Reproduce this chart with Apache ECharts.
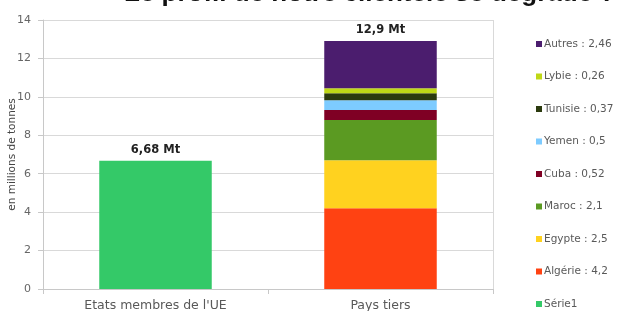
<!DOCTYPE html>
<html>
<head>
<meta charset="utf-8">
<script src="https://cdn.jsdelivr.net/npm/echarts@6/dist/echarts.min.js"></script>
<style>
  html, body { margin: 0; padding: 0; background: #fff; }
  #chart { width: 619px; height: 311px; }
</style>
</head>
<body>
<div id="chart"></div>
<script>
var categories = ["Etats membres de l'UE", 'Pays tiers'];
// series de bas en haut dans la pile
var seriesNames = ['Série1', 'Algérie', 'Egypte', 'Maroc', 'Cuba', 'Yemen', 'Tunisie', 'Lybie', 'Autres'];
var seriesValues = [
    [6.68, 0],
    [0, 4.2],
    [0, 2.5],
    [0, 2.1],
    [0, 0.52],
    [0, 0.5],
    [0, 0.37],
    [0, 0.26],
    [0, 2.46]
];
var seriesColors = ['#34C968', '#FF4212', '#FFD21F', '#5B9A22', '#7F0024', '#7DCBFF', '#2B3A0E', '#BFD816', '#4B1D6E'];
var totalLabels = ['6,68 Mt', '12,9 Mt'];
var yTicks = [0, 2, 4, 6, 8, 10, 12, 14];

function legendName(i) {
    if (i === 0) return seriesNames[0];
    return seriesNames[i] + ' : ' + String(seriesValues[i][1]).replace('.', ',');
}

var myChart = echarts.init(document.getElementById('chart'));

var series = seriesNames.map(function (n, i) {
    return {
        name: legendName(i),
        type: 'bar',
        stack: 'total',
        barWidth: '50%',
        itemStyle: { color: seriesColors[i] },
        data: seriesValues[i].map(function (v, j) {
            var d = { value: v };
            // etiquette du total au-dessus de la barre
            if ((i === 0 && j === 0) || (i === seriesNames.length - 1 && j === 1)) {
                d.label = {
                    show: true,
                    position: 'top',
                    distance: 5,
                    formatter: totalLabels[j],
                    fontFamily: 'DejaVu Sans',
                    fontWeight: 'bold',
                    fontSize: 11.5,
                    color: '#222'
                };
            }
            return d;
        })
    };
});

var option = {
    animation: false,
    title: {
        text: 'Le profil de notre clientèle se dégrade ?',
        left: 124,
        top: -19,
        padding: 0,
        textStyle: {
            fontFamily: 'Liberation Sans',
            fontWeight: 'bold',
            fontSize: 26,
            color: '#111'
        }
    },
    grid: { left: 43, right: 126, top: 20, bottom: 22, outerBoundsMode: 'none', containLabel: false },
    legend: {
        orient: 'vertical',
        left: 531,
        top: 33,
        height: 290,
        itemWidth: 6,
        itemHeight: 6,
        itemGap: 20.5,
        icon: 'rect',
        data: seriesNames.map(function (n, i) { return legendName(i); }).reverse(),
        textStyle: {
            fontFamily: 'DejaVu Sans',
            fontSize: 10.5,
            lineHeight: 12,
            color: '#595959',
            padding: [0, 0, 0, -3]
        }
    },
    xAxis: {
        type: 'category',
        data: categories,
        axisLine: { lineStyle: { color: '#c8c8c8' } },
        axisTick: { show: true, length: 5, lineStyle: { color: '#c8c8c8' } },
        axisLabel: {
            margin: 10,
            fontFamily: 'DejaVu Sans',
            fontSize: 12.5,
            color: '#595959'
        }
    },
    yAxis: {
        type: 'value',
        min: 0,
        max: 14,
        interval: 2,
        name: 'en millions de tonnes',
        nameLocation: 'middle',
        nameGap: 25,
        nameMoveOverlap: false,
        nameTextStyle: {
            fontFamily: 'DejaVu Sans',
            fontSize: 10.5,
            color: '#444'
        },
        axisLine: { show: true, lineStyle: { color: '#c8c8c8' } },
        axisTick: { show: true, length: 5, lineStyle: { color: '#c8c8c8' } },
        splitLine: { lineStyle: { color: '#d9d9d9' } },
        axisLabel: {
            margin: 12,
            fontFamily: 'DejaVu Sans',
            fontSize: 11,
            color: '#666',
            formatter: function (v) { return yTicks.indexOf(v) >= 0 ? String(v) : ''; }
        }
    },
    graphic: [{
        // bordure droite de la zone de tracé
        type: 'line',
        shape: { x1: 493.5, y1: 20, x2: 493.5, y2: 294 },
        style: { stroke: '#d9d9d9', lineWidth: 1 }
    }],
    series: series
};

myChart.setOption(option);
</script>
</body>
</html>
